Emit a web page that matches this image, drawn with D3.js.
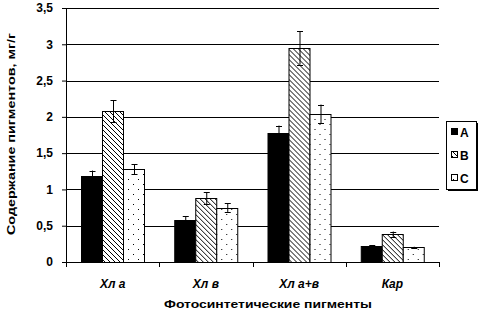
<!DOCTYPE html>
<html>
<head>
<meta charset="utf-8">
<script src="https://cdn.jsdelivr.net/npm/d3@7"></script>
<style>
  body { margin: 0; background: #fff; }
  svg text { font-family: Arial, "Liberation Sans", sans-serif; fill: #000; }
</style>
</head>
<body>
<svg width="479" height="315"></svg>
<script>
const categories = ['Хл а', 'Хл в', 'Хл а+в', 'Кар'];
const series = ['A', 'B', 'C'];
const valuesA = [1.18, 0.58, 1.78, 0.22];
const valuesB = [2.08, 0.88, 2.95, 0.38];
const valuesC = [1.28, 0.75, 2.04, 0.20];
const errA = [0.08, 0.05, 0.10, 0.01];
const errB = [0.15, 0.08, 0.23, 0.04];
const errC = [0.07, 0.06, 0.13, 0.01];
const yTicks = [0, 0.5, 1, 1.5, 2, 2.5, 3, 3.5];

function whenLoaded(){
    const svg = d3.select('svg');
    const width = +svg.attr('width');
    const height = +svg.attr('height');
    const margin = {top: 8, right: 40, bottom: 53, left: 66};
    const innerWidth = width - margin.left - margin.right;
    const innerHeight = height - margin.top - margin.bottom;

    const vals = {A: valuesA, B: valuesB, C: valuesC};
    const errs = {A: errA, B: errB, C: errC};
    const data = [];
    categories.forEach((c, i) => {
        series.forEach(s => data.push({cat: c, key: s, value: vals[s][i], err: errs[s][i]}));
    });

    // patterns
    const defs = svg.append('defs');
    const hatch = defs.append('pattern')
        .attr('id', 'hatch').attr('patternUnits', 'userSpaceOnUse')
        .attr('width', 5).attr('height', 5);
    hatch.append('rect').attr('width', 5).attr('height', 5).attr('fill', '#fff');
    [0, 1, 2, 3, 4].forEach(i => {
        hatch.append('rect').attr('x', i).attr('y', i).attr('width', 1).attr('height', 1).attr('fill', '#000');
    });
    const dots = defs.append('pattern')
        .attr('id', 'dots').attr('patternUnits', 'userSpaceOnUse')
        .attr('width', 10).attr('height', 10);
    dots.append('rect').attr('width', 10).attr('height', 10).attr('fill', '#fff');
    dots.append('rect').attr('x', 2).attr('y', 1).attr('width', 1).attr('height', 1).attr('fill', '#000');
    dots.append('rect').attr('x', 7).attr('y', 6).attr('width', 1).attr('height', 1).attr('fill', '#000');
    const fills = {A: '#000', B: 'url(#hatch)', C: 'url(#dots)'};

    const x0 = d3.scaleBand().domain(categories).range([0, innerWidth]).padding(0);
    const x1 = d3.scaleBand().domain(series).range([0, x0.bandwidth()])
        .paddingInner(0).paddingOuter(0.72);
    const yScale = d3.scaleLinear().domain([0, 3.5]).range([innerHeight, 0]);

    const g = svg.append('g')
        .attr('transform', `translate(${margin.left},${margin.top})`);

    // gridlines
    g.selectAll('.grid').data(yTicks.filter(t => t > 0)).enter()
        .append('line')
        .attr('x1', 0).attr('x2', innerWidth)
        .attr('y1', d => Math.round(yScale(d)) + 0.5)
        .attr('y2', d => Math.round(yScale(d)) + 0.5)
        .attr('stroke', '#000').attr('stroke-width', 1);

    const yAxis = d3.axisLeft(yScale).tickValues(yTicks)
        .tickFormat(d => String(d).replace('.', ','))
        .tickSize(4).tickPadding(9);
    const yAxisG = g.append('g').call(yAxis);
    yAxisG.selectAll('text').style('font-size', '12px').style('font-weight', 'bold');
    yAxisG.selectAll('path, line').attr('stroke', '#000');

    // bars
    const groups = g.selectAll('.grp').data(categories).enter()
        .append('g').attr('transform', d => `translate(${x0(d)},0)`);
    groups.selectAll('rect').data(c => data.filter(d => d.cat === c)).enter()
        .append('rect')
        .attr('x', d => Math.round(x1(d.key)) + 0.5)
        .attr('y', d => Math.round(yScale(d.value)) + 0.5)
        .attr('width', Math.round(x1.bandwidth()))
        .attr('height', d => innerHeight - Math.round(yScale(d.value)))
        .attr('fill', d => fills[d.key])
        .attr('stroke', '#000').attr('stroke-width', 1);

    // error bars
    const eb = groups.selectAll('.eb').data(c => data.filter(d => d.cat === c)).enter()
        .append('g').attr('stroke', '#000').attr('stroke-width', 1);
    const cx = d => Math.round(x1(d.key) + x1.bandwidth() / 2) + 0.5;
    eb.append('line')
        .attr('x1', cx).attr('x2', cx)
        .attr('y1', d => yScale(d.value + d.err))
        .attr('y2', d => yScale(d.value - d.err));
    eb.append('line')
        .attr('x1', d => cx(d) - 3).attr('x2', d => cx(d) + 3)
        .attr('y1', d => Math.round(yScale(d.value + d.err)) + 0.5)
        .attr('y2', d => Math.round(yScale(d.value + d.err)) + 0.5);
    eb.append('line')
        .attr('x1', d => cx(d) - 3).attr('x2', d => cx(d) + 3)
        .attr('y1', d => Math.round(yScale(d.value - d.err)) + 0.5)
        .attr('y2', d => Math.round(yScale(d.value - d.err)) + 0.5);

    // x axis
    const xAxisG = g.append('g').attr('transform', `translate(0,${innerHeight})`);
    xAxisG.append('line').attr('x1', 0).attr('x2', innerWidth)
        .attr('y1', 0.5).attr('y2', 0.5).attr('stroke', '#000');
    const bounds = categories.map(c => x0(c)).concat([innerWidth]);
    xAxisG.selectAll('.tk').data(bounds).enter().append('line')
        .attr('x1', d => Math.round(d) + 0.5).attr('x2', d => Math.round(d) + 0.5)
        .attr('y1', 0).attr('y2', 5).attr('stroke', '#000');
    xAxisG.selectAll('.lbl').data(categories).enter().append('text')
        .attr('x', d => x0(d) + x0.bandwidth() / 2)
        .attr('y', 26)
        .attr('text-anchor', 'middle')
        .style('font-size', '12px').style('font-weight', 'bold').style('font-style', 'italic')
        .text(d => d);

    g.append('text')
        .attr('x', 202).attr('y', innerHeight + 46)
        .attr('text-anchor', 'middle')
        .attr('textLength', 208).attr('lengthAdjust', 'spacingAndGlyphs')
        .style('font-size', '11px').style('font-weight', 'bold')
        .text('Фотосинтетические пигменты');

    svg.append('text')
        .attr('transform', 'translate(15,134) rotate(-90)')
        .attr('text-anchor', 'middle')
        .attr('textLength', 202).attr('lengthAdjust', 'spacingAndGlyphs')
        .style('font-size', '11px').style('font-weight', 'bold')
        .text('Содержание пигментов, мг/г');

    // legend
    const lg = svg.append('g').attr('transform', 'translate(446,121)');
    lg.append('rect').attr('x', 2).attr('y', 2).attr('width', 30).attr('height', 68).attr('fill', '#000');
    lg.append('rect').attr('x', 0.5).attr('y', 0.5).attr('width', 30).attr('height', 68)
        .attr('fill', '#fff').attr('stroke', '#000');
    const items = lg.selectAll('.it').data(series).enter().append('g')
        .attr('transform', (d, i) => `translate(5,${11 + i * 23})`);
    items.append('rect').attr('x', 0.5).attr('y', -3.5).attr('width', 6).attr('height', 6)
        .attr('fill', d => fills[d]).attr('stroke', '#000');
    items.append('text').attr('x', 9).attr('y', 5)
        .style('font-size', '12px').style('font-weight', 'bold').text(d => d);
}

window.onload = whenLoaded;
</script>
</body>
</html>
